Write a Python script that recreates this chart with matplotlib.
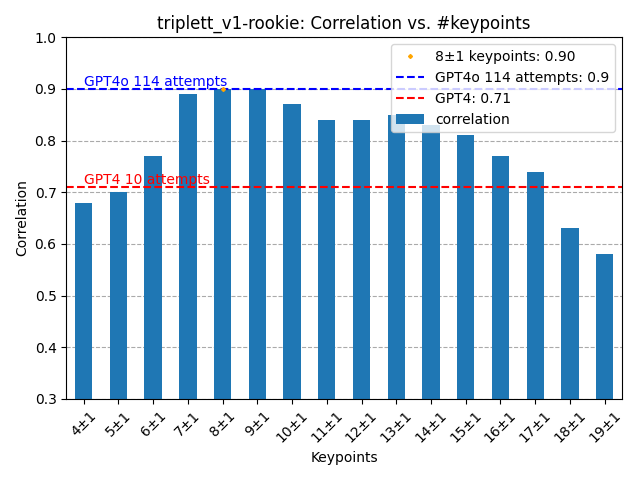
import matplotlib
matplotlib.use("Agg")
import matplotlib.pyplot as plt
import numpy as np

keypoints = [f"{k}±1" for k in range(4, 20)]
correlation = [0.68, 0.70, 0.77, 0.89, 0.90, 0.90, 0.87, 0.84, 0.84, 0.85, 0.83, 0.81, 0.77, 0.74, 0.63, 0.58]
gpt4o = 0.9
gpt4 = 0.71

fig, ax = plt.subplots(figsize=(6.4, 4.8), dpi=100)
x = np.arange(len(keypoints))
ax.bar(x, correlation, width=0.5, color="#1f77b4", label="correlation", zorder=2)
ax.plot([4], [correlation[4]], marker="D", color="orange", markersize=2, linestyle="none",
        label="8±1 keypoints: 0.90", zorder=3)
ax.axhline(gpt4o, color="blue", linestyle="--", label="GPT4o 114 attempts: 0.9")
ax.axhline(gpt4, color="red", linestyle="--", label="GPT4: 0.71")
ax.text(0, gpt4o, "GPT4o 114 attempts", color="blue", va="bottom")
ax.text(0, gpt4, "GPT4 10 attempts", color="red", va="bottom")
ax.set_xticks(x)
ax.set_xticklabels(keypoints, rotation=45)
ax.set_xlim(-0.5, len(keypoints) - 0.5)
ax.set_ylim(0.3, 1.0)
ax.grid(axis="y", linestyle="--", color="#aaaaaa", zorder=0)
ax.set_axisbelow(True)
ax.set_xlabel("Keypoints")
ax.set_ylabel("Correlation")
ax.set_title("triplett_v1-rookie: Correlation vs. #keypoints")
ax.legend(loc="upper right")
fig.tight_layout()
fig.savefig("out.png")
